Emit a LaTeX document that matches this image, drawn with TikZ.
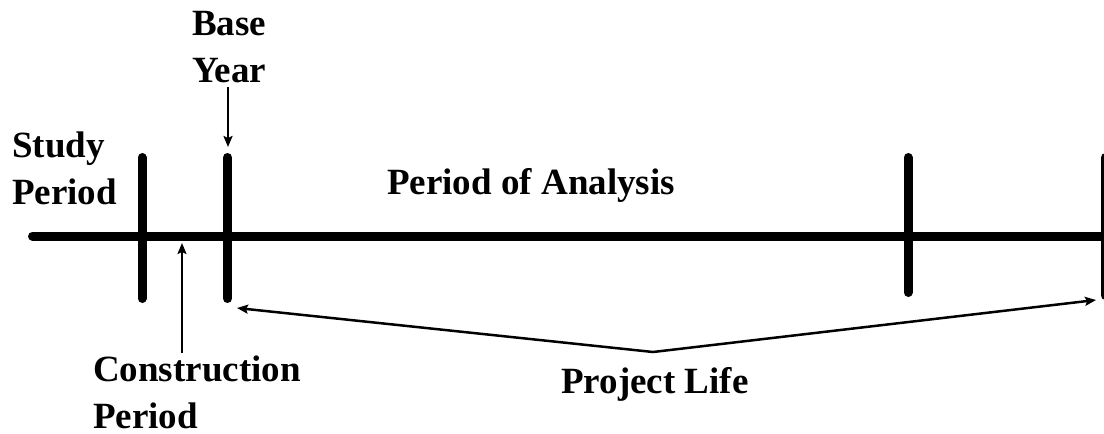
\documentclass[tikz,border=0pt]{standalone}
\usepackage{fontspec}
\setmainfont{Liberation Serif}
\usetikzlibrary{arrows.meta}
\begin{document}
\begin{tikzpicture}[x=1pt,y=-1pt,
  lbl/.style={font=\fontsize{37}{46.5}\selectfont\bfseries, inner sep=0pt, align=left, anchor=base west},
  axis/.style={line width=9pt, line cap=round},
  pointer/.style={line width=2pt, -{Stealth[length=11pt,width=9pt,inset=2pt]}},
  spanline/.style={line width=2.5pt, {Stealth[length=11pt,width=9pt,inset=2pt]}-{Stealth[length=11pt,width=9pt,inset=2pt]}}]
  \useasboundingbox (0,0) rectangle (1104,434);
  % time axis and period markers
  \draw[axis] (32.5,236) -- (1115,236);
  \draw[axis] (142,157.5) -- (142,298.5);
  \draw[axis] (227.5,157.5) -- (227.5,298.5);
  \draw[axis] (908,157.5) -- (908,292.5);
  \draw[axis] (1105.5,157.5) -- (1105.5,295.5);
  % labels (multi-line nodes sit on the baseline of their last line)
  \node[lbl] (study) at (12,204) {Study\\Period};
  \node[lbl] (base) at (192,82) {Base\\Year};
  \node[lbl] (constr) at (93,428) {Construction\\Period};
  \node[lbl] (analysis) at (387,194) {Period of Analysis};
  \node[lbl] (life) at (561,393) {Project Life};
  % pointers
  \coordinate (baseTail) at (228,87);
  \coordinate (baseTip) at (228,147);
  \coordinate (constrTail) at (182,353);
  \coordinate (constrTip) at (182,243);
  \coordinate (lifeStart) at (237,308);
  \coordinate (lifeApex) at (653,352);
  \coordinate (lifeEnd) at (1096,300);
  \draw[pointer] (baseTail) -- (baseTip);
  \draw[pointer] (constrTail) -- (constrTip);
  \draw[spanline, line join=miter] (lifeStart) -- (lifeApex) -- (lifeEnd);
\end{tikzpicture}
\end{document}
